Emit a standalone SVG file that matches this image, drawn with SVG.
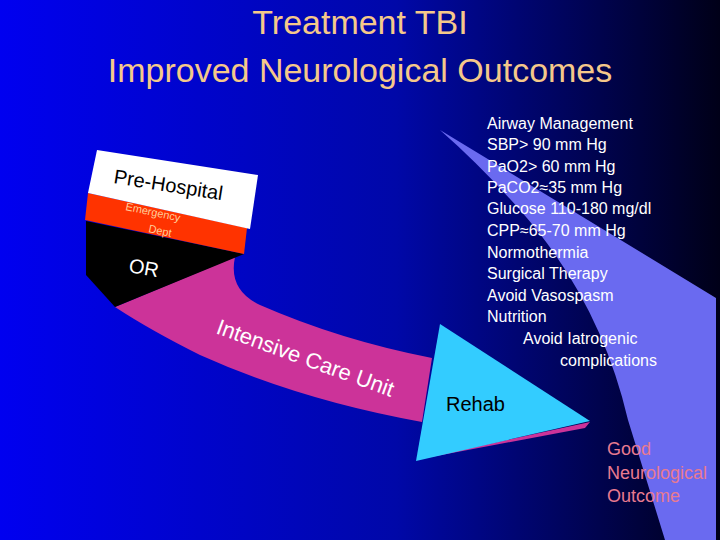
<svg xmlns="http://www.w3.org/2000/svg" width="720" height="540" viewBox="0 0 720 540">
<defs>
<linearGradient id="bg" x1="0" y1="0" x2="1" y2="0">
<stop offset="0" stop-color="#0000f0"/><stop offset="0.55" stop-color="#0008a8"/><stop offset="1" stop-color="#000018"/>
</linearGradient>
<style>
text{font-family:"Liberation Sans",Arial,sans-serif}
.title{fill:#f5c88a;font-size:34px;text-anchor:middle}
.list{fill:#ffffff;font-size:16px}
.good{fill:#e87a90;font-size:18px}
</style>
</defs>
<rect width="720" height="540" fill="url(#bg)"/>
<path d="M440,130 L716,298 L716,540 L665,540 L628,420 Q600,300 520,210 Q480,165 440,130 Z" fill="#6a6af0"/>
<text class="title" x="360" y="34">Treatment TBI</text>
<text class="title" x="360" y="82">Improved Neurological Outcomes</text>
<g id="icu">
<path d="M235,257 Q228,290 260,305 Q340,340 432,358 L422,422 Q300,400 200,355 Q150,330 115,307 Z" fill="#cc3399"/>
<text x="0" y="0" transform="translate(215,333) rotate(20)" fill="#ffffff" font-size="22">Intensive Care Unit</text>
</g>
<g id="or">
<path d="M86,221 L244,254 L115,307 L86,275 Z" fill="#000000"/>
<text x="0" y="0" transform="translate(128,272) rotate(10)" fill="#ffffff" font-size="20">OR</text>
</g>
<g id="ed">
<path d="M88,193 L247,228 L244,254 L85,220 Z" fill="#ff3300"/>
<text transform="translate(125,210) rotate(12)" fill="#ffcc99" font-size="11">Emergency</text>
<text transform="translate(148,232) rotate(12)" fill="#ffcc99" font-size="11">Dept</text>
</g>
<g id="prehospital">
<path d="M97,150 L258,175 L250,229 L88,193 Z" fill="#ffffff"/>
<text transform="translate(113,183) rotate(9)" fill="#000000" font-size="20">Pre-Hospital</text>
</g>
<g id="rehab">
<path d="M415,460 L585,428 L590,422 Z" fill="#cc3399"/>
<path d="M440,324 L590,421 L416,461 Z" fill="#33ccff"/>
<text x="446" y="411" fill="#000000" font-size="20">Rehab</text>
</g>
<g id="list">
<text class="list" x="487" y="129">Airway Management</text>
<text class="list" x="487" y="150">SBP&gt; 90 mm Hg</text>
<text class="list" x="487" y="172">PaO2&gt; 60 mm Hg</text>
<text class="list" x="487" y="193">PaCO2≈35 mm Hg</text>
<text class="list" x="487" y="214">Glucose 110-180 mg/dl</text>
<text class="list" x="487" y="236">CPP≈65-70 mm Hg</text>
<text class="list" x="487" y="258">Normothermia</text>
<text class="list" x="487" y="279">Surgical Therapy</text>
<text class="list" x="487" y="301">Avoid Vasospasm</text>
<text class="list" x="487" y="322">Nutrition</text>
<text class="list" x="523" y="344">Avoid Iatrogenic</text>
<text class="list" x="560" y="366">complications</text>
</g>
<g id="outcome">
<text class="good" x="607" y="455">Good</text>
<text class="good" x="607" y="479">Neurological</text>
<text class="good" x="607" y="502">Outcome</text>
</g>
</svg>
